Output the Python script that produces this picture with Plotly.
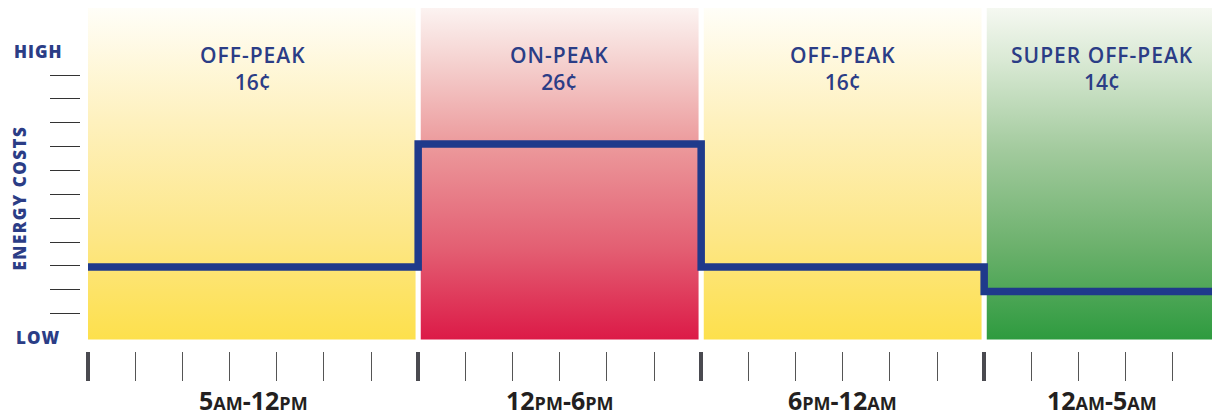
import plotly.graph_objects as go

# ---- data ----
periods = ["OFF-PEAK", "ON-PEAK", "OFF-PEAK", "SUPER OFF-PEAK"]
rates_cents = [16, 26, 16, 14]
period_hours = [7, 6, 6, 5]
time_from = ["5", "12", "6", "12"]
time_from_sfx = ["AM", "PM", "PM", "AM"]
time_to = ["12", "6", "12", "5"]
time_to_sfx = ["PM", "PM", "AM", "AM"]
y_low_label = "LOW"
y_high_label = "HIGH"
y_title = "ENERGY COSTS"

# ---- styling ----
# the page body has an 8px margin, so the figure is 8px smaller than the window
W, H = 1212, 409
ML, MR, MT, MB = 72, 0, 0, 66
PLOT_H = H - MT - MB
Y_RANGE = [9.17, 37.06]
LOW_V, STEP = 10.27, 1.94
HIGH_V = LOW_V + 12 * STEP
PANEL_BOTTOM = 10.1
PANEL_TOP = Y_RANGE[1]
GAP = 0.055
NAVY_TEXT = "#2B3D86"
LINE_COLOR = "#1F3A8B"
DARK = "#231F20"

scales = {
    "OFF-PEAK": [[0, "#FDE04C"], [0.33, "#FDE78A"], [0.66, "#FEF1BE"], [1, "#FFFEF8"]],
    "ON-PEAK": [[0, "#DC1A47"], [0.27, "#E35E72"], [0.59, "#EC9A9C"], [0.84, "#F5D2D0"], [1, "#FCF3F1"]],
    "SUPER OFF-PEAK": [[0, "#2E9B3F"], [0.27, "#6AB06B"], [0.57, "#A2CA9D"], [0.84, "#D9E9D4"], [1, "#F5F8F1"]],
}

starts = []
acc = 0
for h in period_hours:
    starts.append(acc)
    acc += h
ends = [s + h for s, h in zip(starts, period_hours)]
total = acc

fig = go.Figure()

# background panels
for i, (p, s, e) in enumerate(zip(periods, starts, ends)):
    x0 = s + (GAP if i > 0 else 0)
    x1 = e - (GAP if i < len(periods) - 1 else 0)
    fig.add_trace(go.Scatter(
        x=[x0, x1, x1, x0, x0],
        y=[PANEL_BOTTOM, PANEL_BOTTOM, PANEL_TOP, PANEL_TOP, PANEL_BOTTOM],
        mode="lines", line=dict(width=0), fill="toself",
        fillgradient=dict(type="vertical", colorscale=scales[p]),
        hoverinfo="skip", showlegend=False,
    ))

# step line of rates
fig.add_trace(go.Scatter(
    x=starts + [total], y=rates_cents + [rates_cents[-1]],
    mode="lines", line=dict(color=LINE_COLOR, width=7.5, shape="hv"),
    showlegend=False, hoverinfo="skip",
))

annotations = []
for p, r, s, e in zip(periods, rates_cents, starts, ends):
    annotations.append(dict(
        x=(s + e) / 2, xref="x", y=1, yref="paper", yshift=-60,
        text=f"<span style='letter-spacing:1px'>{p}</span><br>{r}¢",
        showarrow=False, xanchor="center", yanchor="middle",
        font=dict(family="Open Sans", size=21, color=NAVY_TEXT, weight=600),
    ))

for a, asx, b, bsx, s, e in zip(time_from, time_from_sfx, time_to, time_to_sfx, starts, ends):
    txt = (f"{a}<span style='font-size:18px'>{asx}</span>-"
           f"{b}<span style='font-size:18px'>{bsx}</span>")
    annotations.append(dict(
        x=(s + e) / 2, xref="x", y=0, yref="paper", yshift=-49,
        text=txt, showarrow=False, xanchor="center", yanchor="middle",
        font=dict(family="Open Sans", size=25, color=DARK, weight=700),
    ))

for lbl, v in [(y_high_label, HIGH_V), (y_low_label, LOW_V)]:
    annotations.append(dict(
        x=0, xref="paper", xshift=-42, y=v, yref="y",
        text=f"<span style='letter-spacing:1px'>{lbl}</span>",
        showarrow=False, xanchor="center", yanchor="middle",
        font=dict(family="Open Sans", size=17, color=NAVY_TEXT, weight=800),
    ))

annotations.append(dict(
    x=0, xref="paper", xshift=-61, y=(PLOT_H - 190.5) / PLOT_H, yref="paper",
    text=f"<span style='letter-spacing:1.5px'>{y_title}</span>",
    textangle=-90, showarrow=False, xanchor="center", yanchor="middle",
    font=dict(family="Open Sans", size=17, color=NAVY_TEXT, weight=800),
))

plot_w = W - ML - MR
fig.update_layout(
    width=W, height=H,
    margin=dict(l=ML, r=MR, t=MT, b=MB),
    paper_bgcolor="white", plot_bgcolor="white",
    annotations=annotations,
    xaxis=dict(
        domain=[8 / plot_w, 1], range=[0, total],
        tickmode="array", tickvals=starts + [total],
        ticks="outside", ticklen=29, tickwidth=4, tickcolor="#4A4A50",
        showticklabels=False, showgrid=False, zeroline=False, showline=False,
        minor=dict(tickvals=list(range(total + 1)), ticks="outside", ticklen=29,
                   tickwidth=1.2, tickcolor="#555555", showgrid=False),
    ),
    yaxis=dict(
        anchor="free", position=0, range=Y_RANGE,
        tickmode="array", tickvals=[LOW_V + STEP * k for k in range(1, 12)],
        ticks="outside", ticklen=30, tickwidth=1.3, tickcolor="#333333",
        showticklabels=False, showgrid=False, zeroline=False, showline=False,
    ),
)

fig.write_html("out.html")
